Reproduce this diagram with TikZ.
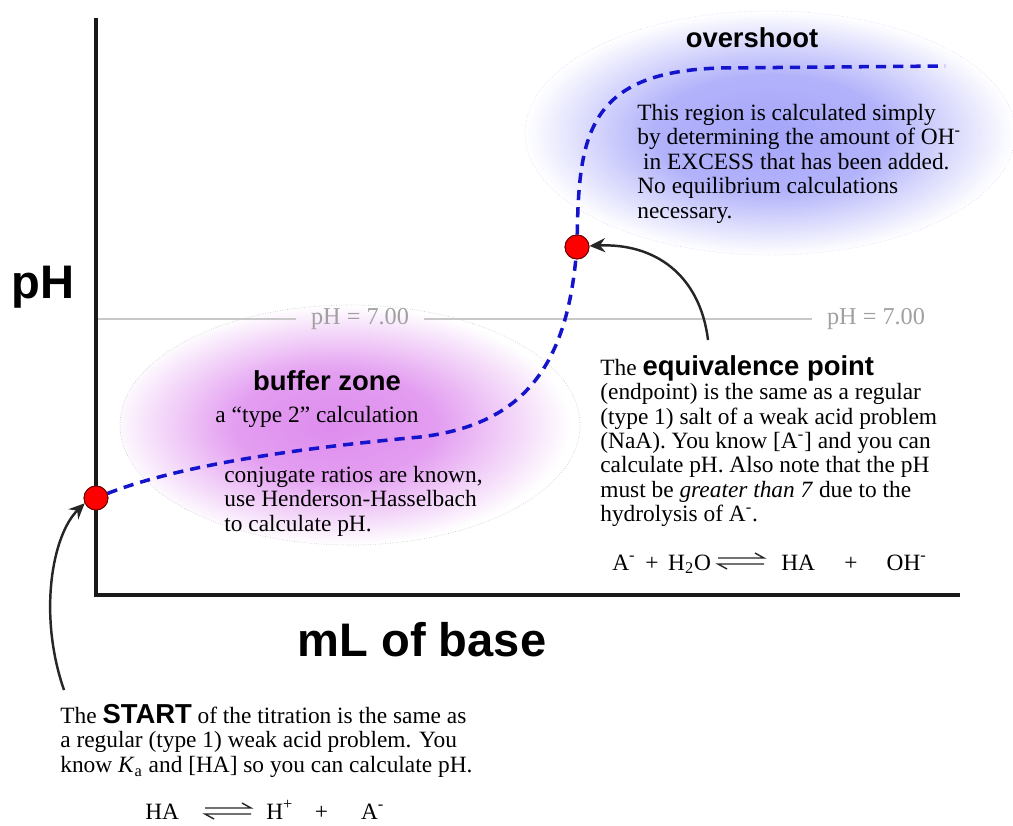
\documentclass[tikz,border=0pt]{standalone}
\usepackage{fontspec}
\setmainfont{Liberation Serif}
\newfontfamily\headfont{Liberation Sans}
\usetikzlibrary{arrows.meta}
\definecolor{bufc}{RGB}{222,140,238}
\definecolor{ovc}{RGB}{165,165,250}
\definecolor{curveblue}{RGB}{20,20,205}
\definecolor{phgray}{RGB}{200,200,200}
\definecolor{phtext}{RGB}{160,160,160}
\definecolor{dotred}{RGB}{255,0,0}
\pgfdeclareradialshading{bufshade}{\pgfpoint{-2bp}{0bp}}{color(0bp)=(bufc); color(11bp)=(bufc!85!white); color(25bp)=(white); color(50bp)=(white)}
\pgfdeclareradialshading{ovshade}{\pgfpoint{0bp}{0bp}}{color(0bp)=(ovc); color(12bp)=(ovc!85!white); color(25bp)=(white); color(50bp)=(white)}
\begin{document}
\begin{tikzpicture}[x=0.02cm,y=-0.02cm,
  axis/.style={line width=2.8pt,draw=black!90},
  phline/.style={line width=1.6pt,draw=phgray},
  phlabel/.style={text=phtext,font=\fontsize{13.8}{13.7}\selectfont,inner sep=0pt},
  curve/.style={line width=2pt,draw=curveblue,dash pattern=on 5.8pt off 4pt},
  dot/.style={circle,fill=dotred,draw=red!40!black,line width=0.5pt,minimum size=0.48cm,inner sep=0pt},
  pointer/.style={line width=1.4pt,draw=black!85,-{Stealth[length=9pt,width=8pt,inset=3pt]}},
  body/.style={font=\fontsize{13.3}{13.9}\selectfont,align=left,inner sep=0pt,anchor=north west},
  head/.style={font=\headfont\bfseries\fontsize{15.6}{16}\selectfont,inner sep=0pt},
  big/.style={font=\headfont\bfseries\fontsize{26.8}{28}\selectfont,inner sep=0pt},
  region/.style={draw=black!20,densely dotted,line width=0.4pt},
  harp/.pic={\draw[line width=0.8pt,black!85,line join=miter] (-23,-3) -- (23,-3) -- (14,-8);
             \draw[line width=0.8pt,black!85,line join=miter] (23,3) -- (-23,3) -- (-14,8);}]
\useasboundingbox (0,0) rectangle (1013,825);
% shaded regions
\shade[shading=bufshade] (350,425) ellipse [x radius=230, y radius=120];
\draw[region] (350,425) ellipse [x radius=230, y radius=120];
\shade[shading=ovshade] (770,133) ellipse [x radius=245, y radius=122];
\draw[region,draw=blue!15] (770,133) ellipse [x radius=245, y radius=122];
% pH = 7 line
\node[phlabel] (ph7a) at (360,319) {pH = 7.00};
\node[phlabel] (ph7b) at (876,319) {pH = 7.00};
\coordinate (phL) at (96,319);
\draw[phline] (phL) -- ([xshift=-0.3cm]ph7a.west);
\draw[phline] ([xshift=0.3cm]ph7a.east) -- ([xshift=-0.3cm]ph7b.west);
% axes
\coordinate (ytop) at (96,18);
\coordinate (origin) at (96,595);
\coordinate (xend) at (960,595);
\draw[axis] (ytop) -- (origin) -- (xend);
\node[big] (phlab) at (43,287) {pH};
\node[big] (mllab) at (422,640) {mL of base};
% dots and curve
\node[dot] (start) at (96,498) {};
\node[dot] (eqp) at (577,247) {};
\coordinate (cend) at (945,66);
\draw[curve] (start) .. controls (180,465) and (300,448) .. (420,437)
  .. controls (520,425) and (565,370) .. (eqp)
  .. controls (579,135) and (588,72) .. (720,68) -- (cend);
\node[dot] at (start) {};
\node[dot] at (eqp) {};
% region labels
\node[head] (ovh) at (752,38) {overshoot};
\node[body] (ovt) at (637,104) {This region is calculated simply\\
by determining the amount of OH\textsuperscript{-}\\
\ in EXCESS that has been added.\\
No equilibrium calculations\\
necessary.};
\node[head] (bufh) at (327,381) {buffer zone};
\node[body,anchor=center] (buft) at (317,417) {a ``type 2'' calculation};
\node[body] (bufb) at (224,466) {conjugate ratios are known,\\
use Henderson-Hasselbach\\
to calculate pH.};
% equivalence text
\node[body] (eqt) at (600,355) {The {\headfont\bfseries\fontsize{15.6}{13.9}\selectfont equivalence point}\\
(endpoint) is the same as a regular\\
(type 1) salt of a weak acid problem\\
(NaA). You know [A\textsuperscript{-}] and you can\\
calculate pH. Also note that the pH\\
must be \textit{greater than 7} due to the\\
hydrolysis of A\textsuperscript{-}.};
\node[body,anchor=base west] (eqrl) at (612,570) {A\textsuperscript{-} \,+\, H\textsubscript{2}O};
\pic at (741,561) {harp};
\node[body,anchor=base west] (eqrr) at (781,570) {HA \quad +\quad\ OH\textsuperscript{-}};
% start text
\node[body] (stt) at (60,704) {The {\headfont\bfseries\fontsize{15.6}{13.9}\selectfont START} of the titration is the same as\\
a regular (type 1) weak acid problem. You\\
know \textit{K}\textsubscript{a} and [HA] so you can calculate pH.};
\node[body,anchor=base west] (strl) at (145,819) {HA};
\pic at (228,811) {harp};
\node[body,anchor=base west] (strr) at (266,819) {H\textsuperscript{+} \ \ \,+\ \ \ \ \ \,A\textsuperscript{-}};
% pointers
\coordinate (eqtail) at (708,340);
\coordinate (sttail) at (64,690);
\draw[pointer] (eqtail) .. controls (700,275) and (655,243) .. (eqp.5);
\draw[pointer] (sttail) .. controls (38,615) and (52,535) .. (start.205);
\end{tikzpicture}
\end{document}
